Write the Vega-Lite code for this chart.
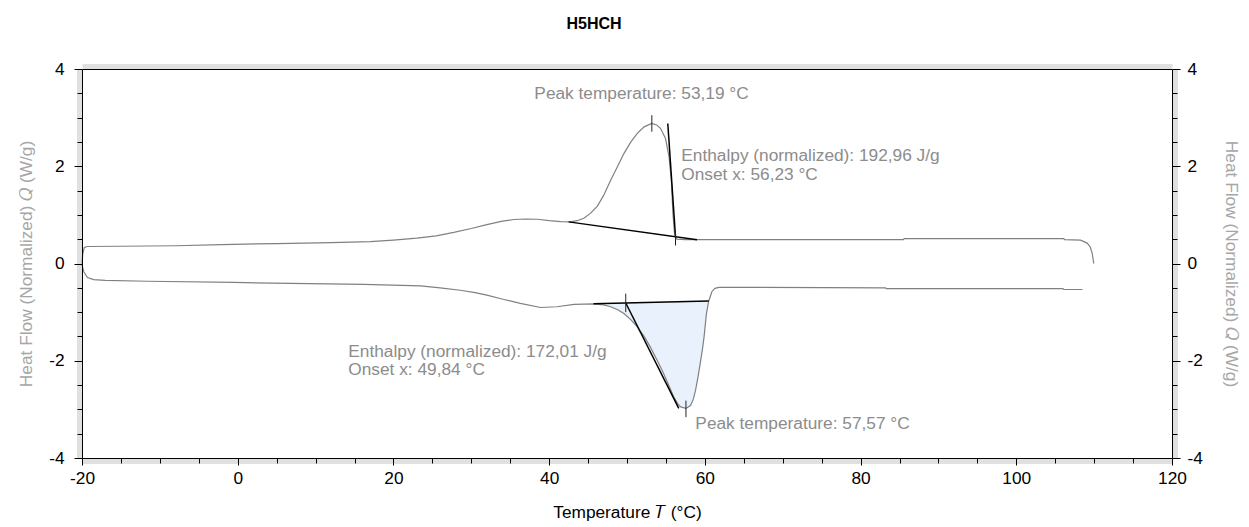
{
  "$schema": "https://vega.github.io/schema/vega-lite/v6.json",
  "width": 1090,
  "height": 389,
  "autosize": {"type": "none"},
  "padding": {"left": 82, "top": 69, "right": 77, "bottom": 69},
  "title": {"text": "H5HCH", "font": "Liberation Sans", "fontSize": 16, "fontWeight": "bold", "color": "#000000", "offset": 28, "dx": -33},
  "config": {
    "view": {"stroke": null},
    "font": "Liberation Sans",
    "axis": {"grid": false, "labelFont": "Liberation Sans", "titleFont": "Liberation Sans", "labelFlush": false, "labelOverlap": false}
  },
  "datasets": {
    "up": [
      {"x": -20.0, "y": 0.0}, {"x": -19.9, "y": 0.2}, {"x": -19.7, "y": 0.33}, {"x": -19.3, "y": 0.35},
      {"x": -15, "y": 0.355}, {"x": -8, "y": 0.365}, {"x": -2, "y": 0.39}, {"x": 5, "y": 0.41},
      {"x": 12, "y": 0.43}, {"x": 17, "y": 0.45}, {"x": 20, "y": 0.48}, {"x": 23, "y": 0.52},
      {"x": 25.5, "y": 0.57}, {"x": 27.75, "y": 0.64}, {"x": 30, "y": 0.72}, {"x": 32, "y": 0.8},
      {"x": 34, "y": 0.87}, {"x": 35.5, "y": 0.905}, {"x": 37, "y": 0.915}, {"x": 38.5, "y": 0.91},
      {"x": 40, "y": 0.88}, {"x": 41.5, "y": 0.86}, {"x": 42.7, "y": 0.856}, {"x": 43.6, "y": 0.88},
      {"x": 44.45, "y": 0.93}, {"x": 45.3, "y": 1.03}, {"x": 46.2, "y": 1.18}, {"x": 47.0, "y": 1.4},
      {"x": 47.9, "y": 1.71}, {"x": 48.8, "y": 2.0}, {"x": 49.6, "y": 2.26}, {"x": 50.5, "y": 2.5},
      {"x": 51.3, "y": 2.67}, {"x": 52.2, "y": 2.81}, {"x": 53.19, "y": 2.88}, {"x": 53.8, "y": 2.85},
      {"x": 54.3, "y": 2.78}, {"x": 54.95, "y": 2.57}, {"x": 55.4, "y": 2.19}, {"x": 55.7, "y": 1.71},
      {"x": 55.9, "y": 1.03}, {"x": 56.1, "y": 0.62}, {"x": 56.4, "y": 0.5}, {"x": 57.5, "y": 0.49},
      {"x": 70, "y": 0.49}, {"x": 85.5, "y": 0.49}, {"x": 85.6, "y": 0.51}, {"x": 100, "y": 0.51},
      {"x": 106.1, "y": 0.51}, {"x": 106.2, "y": 0.49}, {"x": 108.25, "y": 0.48}, {"x": 109.1, "y": 0.42},
      {"x": 109.5, "y": 0.34}, {"x": 109.75, "y": 0.21}, {"x": 109.95, "y": 0.0}
    ],
    "low": [
      {"x": -20.0, "y": -0.03}, {"x": -19.77, "y": -0.17}, {"x": -19.3, "y": -0.29}, {"x": -18.5, "y": -0.33},
      {"x": -17, "y": -0.345}, {"x": -11.6, "y": -0.365}, {"x": -0.5, "y": -0.39}, {"x": 9.1, "y": -0.415},
      {"x": 16.2, "y": -0.43}, {"x": 23.5, "y": -0.46}, {"x": 26, "y": -0.5}, {"x": 28.6, "y": -0.55},
      {"x": 30.5, "y": -0.6}, {"x": 32, "y": -0.65}, {"x": 34.2, "y": -0.74}, {"x": 36.3, "y": -0.82},
      {"x": 38.9, "y": -0.905}, {"x": 41.0, "y": -0.89}, {"x": 43.2, "y": -0.84},
      {"x": 45.7, "y": -0.83, "base": -0.83}, {"x": 47.0, "y": -0.85, "base": -0.825},
      {"x": 47.9, "y": -0.89, "base": -0.821}, {"x": 48.8, "y": -0.95, "base": -0.817},
      {"x": 49.6, "y": -1.03, "base": -0.814}, {"x": 50.45, "y": -1.15, "base": -0.811},
      {"x": 51.3, "y": -1.3, "base": -0.807}, {"x": 52.2, "y": -1.5, "base": -0.804},
      {"x": 53.0, "y": -1.72, "base": -0.8}, {"x": 53.9, "y": -2.0, "base": -0.797},
      {"x": 54.7, "y": -2.26, "base": -0.794}, {"x": 55.4, "y": -2.52, "base": -0.791},
      {"x": 56.0, "y": -2.74, "base": -0.788}, {"x": 56.5, "y": -2.88, "base": -0.786},
      {"x": 56.9, "y": -2.95, "base": -0.785}, {"x": 57.57, "y": -2.98, "base": -0.782},
      {"x": 58.15, "y": -2.92, "base": -0.78}, {"x": 58.5, "y": -2.8, "base": -0.779},
      {"x": 58.8, "y": -2.61, "base": -0.777}, {"x": 59.1, "y": -2.35, "base": -0.776},
      {"x": 59.4, "y": -2.06, "base": -0.775}, {"x": 59.7, "y": -1.75, "base": -0.774},
      {"x": 59.9, "y": -1.51, "base": -0.773}, {"x": 60.2, "y": -1.03, "base": -0.772},
      {"x": 60.5, "y": -0.77, "base": -0.77}, {"x": 60.9, "y": -0.58}, {"x": 61.3, "y": -0.51},
      {"x": 61.8, "y": -0.49}, {"x": 63, "y": -0.49}, {"x": 83.2, "y": -0.5}, {"x": 83.3, "y": -0.515},
      {"x": 106.0, "y": -0.515}, {"x": 106.1, "y": -0.535}, {"x": 108.5, "y": -0.535}
    ],
    "segs": [
      {"x": 42.5, "y": 0.856, "x2": 59.0, "y2": 0.49},
      {"x": 55.24, "y": 2.88, "x2": 56.23, "y2": 0.55},
      {"x": 45.7, "y": -0.83, "x2": 60.5, "y2": -0.77},
      {"x": 49.84, "y": -0.813, "x2": 56.65, "y2": -2.98}
    ],
    "marks": [
      {"x": 53.19, "y": 3.05, "y2": 2.71},
      {"x": 56.23, "y": 0.66, "y2": 0.37},
      {"x": 49.84, "y": -0.62, "y2": -1.0},
      {"x": 57.57, "y": -2.82, "y2": -3.16}
    ],
    "notes": [
      {"x": 38.1, "y": 3.48, "t": "Peak temperature: 53,19 °C"},
      {"x": 56.97, "y": 2.21, "t": "Enthalpy (normalized): 192,96 J/g"},
      {"x": 56.97, "y": 1.83, "t": "Onset x: 56,23 °C"},
      {"x": 14.2, "y": -1.82, "t": "Enthalpy (normalized): 172,01 J/g"},
      {"x": 14.2, "y": -2.2, "t": "Onset x: 49,84 °C"},
      {"x": 58.78, "y": -3.31, "t": "Peak temperature: 57,57 °C"}
    ]
  },
  "resolve": {"axis": {"x": "independent", "y": "independent"}},
  "layer": [
    {
      "data": {"name": "low"},
      "transform": [{"filter": "isValid(datum.base)"}],
      "mark": {"type": "area", "fill": "#e9f2fc", "stroke": null},
      "encoding": {
        "x": {"field": "x", "type": "quantitative", "scale": {"domain": [-20, 120], "nice": false, "zero": false},
              "axis": {"orient": "bottom", "offset": 3, "domainColor": "#e0e0e0", "domainWidth": 5, "ticks": false, "labels": false, "title": null, "zindex": 0}},
        "y": {"field": "y", "type": "quantitative", "scale": {"domain": [-4, 4], "nice": false, "zero": false},
              "axis": {"orient": "left", "offset": 3, "domainColor": "#e0e0e0", "domainWidth": 5, "ticks": false, "labels": false, "title": null, "zindex": 0}},
        "y2": {"field": "base"}
      }
    },
    {
      "data": {"name": "up"},
      "mark": {"type": "line", "color": "#808080", "strokeWidth": 1.2},
      "encoding": {
        "x": {"field": "x", "type": "quantitative", "scale": {"domain": [-20, 120], "nice": false, "zero": false},
              "axis": {"orient": "top", "offset": 3, "domainColor": "#e0e0e0", "domainWidth": 5, "ticks": false, "labels": false, "title": null, "zindex": 0}},
        "y": {"field": "y", "type": "quantitative", "scale": {"domain": [-4, 4], "nice": false, "zero": false},
              "axis": {"orient": "right", "offset": 3, "domainColor": "#e0e0e0", "domainWidth": 5, "ticks": false, "labels": false, "title": null, "zindex": 0}}
      }
    },
    {
      "data": {"name": "low"},
      "mark": {"type": "line", "color": "#808080", "strokeWidth": 1.2},
      "encoding": {
        "x": {"field": "x", "type": "quantitative", "scale": {"domain": [-20, 120], "nice": false, "zero": false},
              "axis": {"orient": "bottom", "zindex": 1,
                       "values": [-20, -15, -10, -5, 0, 5, 10, 15, 20, 25, 30, 35, 40, 45, 50, 55, 60, 65, 70, 75, 80, 85, 90, 95, 100, 105, 110, 115, 120],
                       "labelExpr": "datum.value % 20 === 0 ? '' + datum.value : ''",
                       "tickSize": {"condition": {"test": "datum.value % 20 === 0", "value": 7}, "value": 5},
                       "tickColor": "#000000", "domainColor": "#000000", "labelColor": "#000000", "labelFontSize": 17.3, "labelPadding": 4,
                       "title": "Temperature  𝑇  (°C)", "titleColor": "#000000", "titleFontSize": 17.3, "titleFontWeight": "normal", "titlePadding": 17}},
        "y": {"field": "y", "type": "quantitative", "scale": {"domain": [-4, 4], "nice": false, "zero": false},
              "axis": {"orient": "left", "zindex": 1,
                       "values": [-4, -3.5, -3, -2.5, -2, -1.5, -1, -0.5, 0, 0.5, 1, 1.5, 2, 2.5, 3, 3.5, 4],
                       "labelExpr": "datum.value % 2 === 0 ? '' + datum.value : ''",
                       "tickSize": {"condition": {"test": "datum.value % 2 === 0", "value": 8}, "value": 5},
                       "tickColor": "#000000", "domainColor": "#000000", "labelColor": "#000000", "labelFontSize": 17.3, "labelPadding": 10,
                       "title": "Heat Flow (Normalized)  𝑄  (W/g)", "titleColor": "#a6a6a6", "titleFontSize": 17.3, "titleFontWeight": "normal", "titlePadding": 13}}
      }
    },
    {
      "data": {"name": "segs"},
      "mark": {"type": "rule", "color": "#000000", "strokeWidth": 1.5},
      "encoding": {
        "x": {"field": "x", "type": "quantitative", "scale": {"domain": [-20, 120], "nice": false, "zero": false},
              "axis": {"orient": "top", "zindex": 1, "ticks": false, "labels": false, "title": null, "domainColor": "#000000"}},
        "y": {"field": "y", "type": "quantitative", "scale": {"domain": [-4, 4], "nice": false, "zero": false},
              "axis": {"orient": "right", "zindex": 1,
                       "values": [-4, -3.5, -3, -2.5, -2, -1.5, -1, -0.5, 0, 0.5, 1, 1.5, 2, 2.5, 3, 3.5, 4],
                       "labelExpr": "datum.value % 2 === 0 ? '' + datum.value : ''",
                       "tickSize": {"condition": {"test": "datum.value % 2 === 0", "value": 8}, "value": 5},
                       "tickColor": "#000000", "domainColor": "#000000", "labelColor": "#000000", "labelFontSize": 17.3, "labelPadding": 7,
                       "title": "Heat Flow (Normalized)  𝑄  (W/g)", "titleColor": "#a6a6a6", "titleFontSize": 17.3, "titleFontWeight": "normal", "titlePadding": 19}},
        "x2": {"field": "x2"},
        "y2": {"field": "y2"}
      }
    },
    {
      "data": {"name": "marks"},
      "mark": {"type": "rule", "color": "#222222", "strokeWidth": 1},
      "encoding": {
        "x": {"field": "x", "type": "quantitative", "axis": null},
        "y": {"field": "y", "type": "quantitative", "axis": null},
        "y2": {"field": "y2"}
      }
    },
    {
      "data": {"name": "notes"},
      "mark": {"type": "text", "align": "left", "baseline": "middle", "font": "Liberation Sans", "fontSize": 17.3, "color": "#8c8c8c"},
      "encoding": {
        "x": {"field": "x", "type": "quantitative", "axis": null},
        "y": {"field": "y", "type": "quantitative", "axis": null},
        "text": {"field": "t"}
      }
    }
  ]
}
